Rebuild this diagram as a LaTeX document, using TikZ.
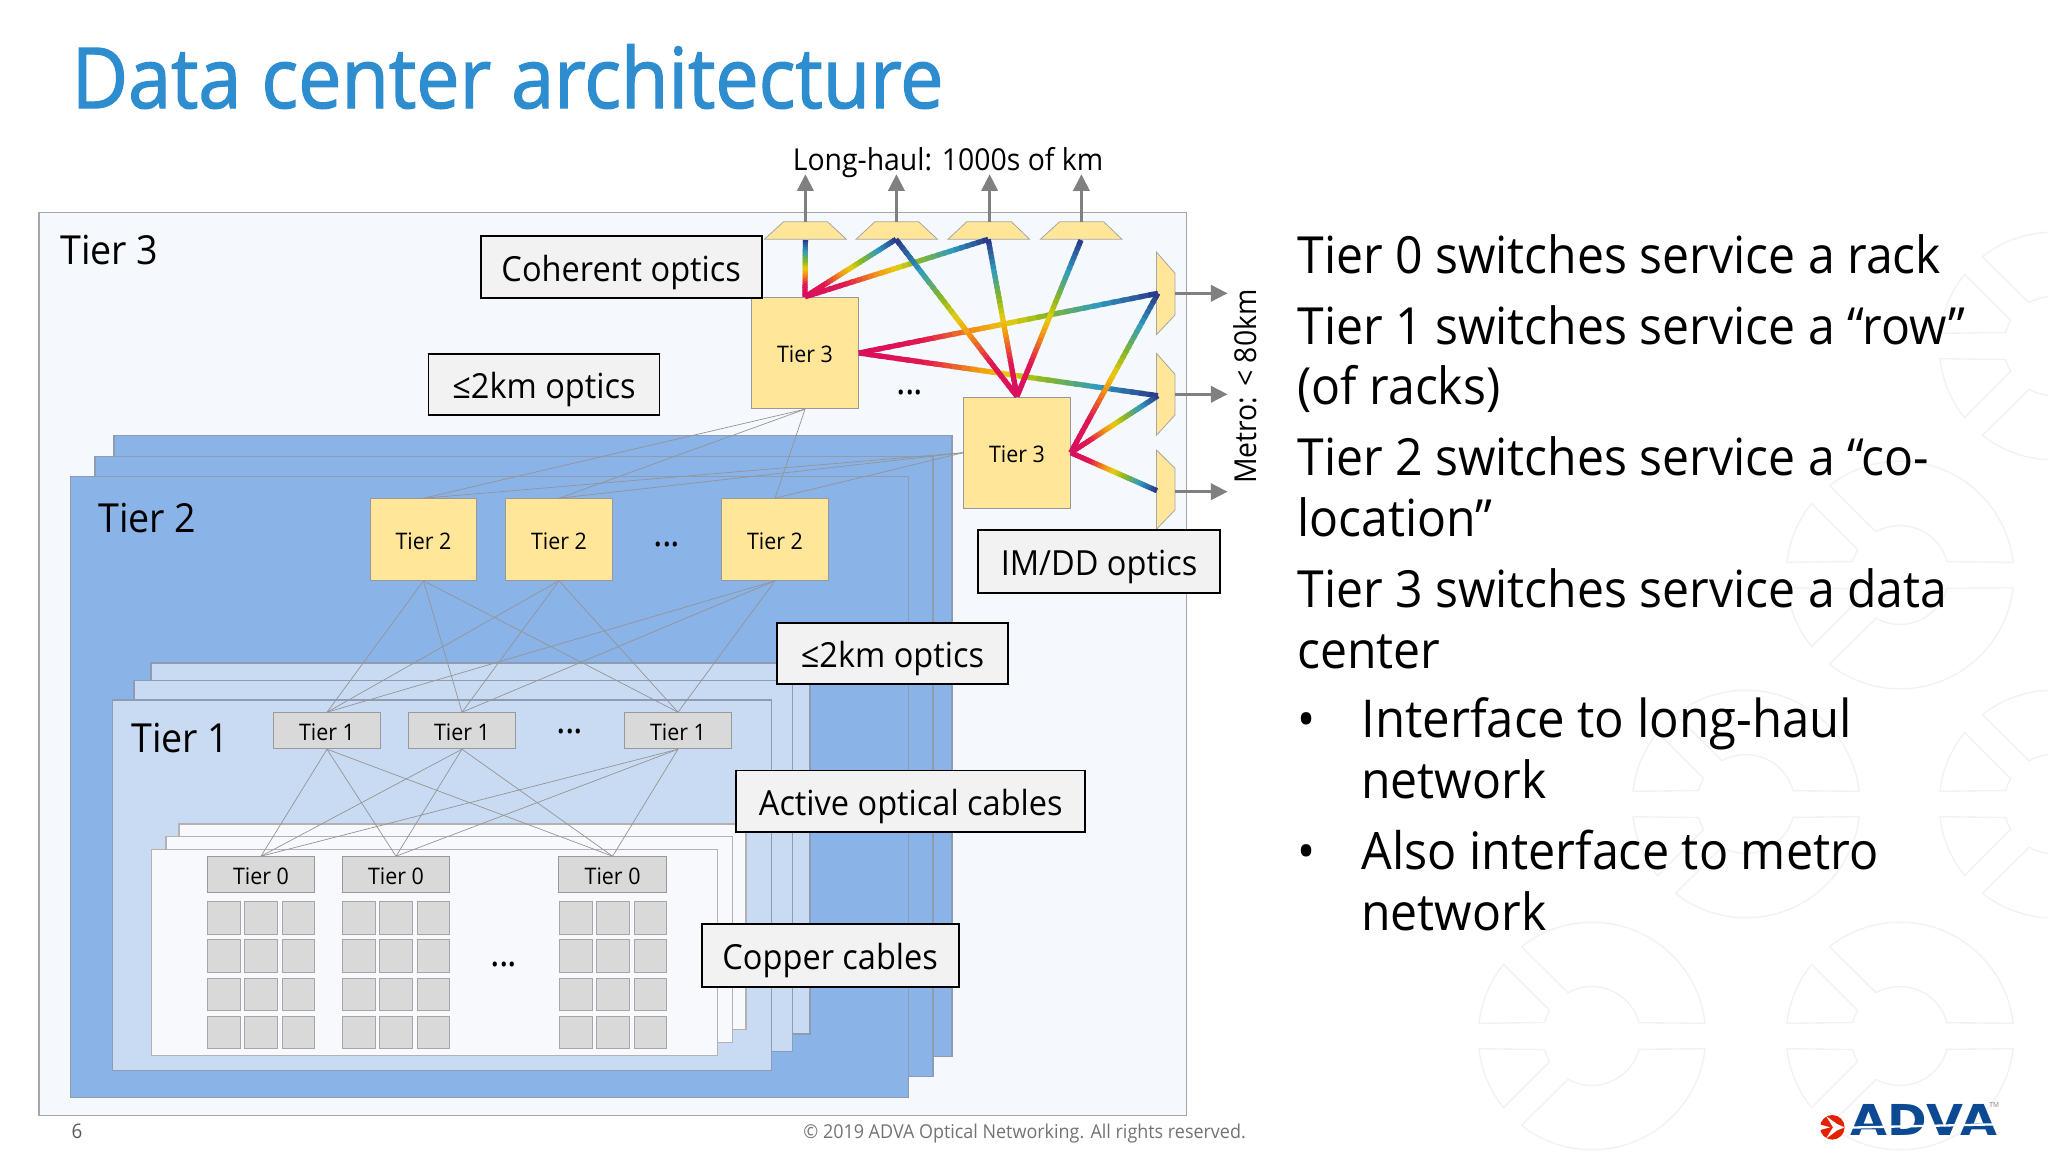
\documentclass[tikz,border=0pt]{standalone}
\usepackage{fontspec}
\usetikzlibrary{calc,arrows.meta}
\setmainfont{Open Sans}[FakeStretch=0.94]
\newfontfamily\titlef{Open Sans}[FakeStretch=0.92,FakeBold=1.6]
\newfontfamily\logof{DejaVu Sans Bold}[FakeStretch=1.12]
\newcommand\fs[1]{\fontsize{#1}{#1}\selectfont}
\definecolor{outerfill}{HTML}{F5F8FD}
\definecolor{ltwo}{HTML}{8AB3E8}
\definecolor{lone}{HTML}{C9DBF3}
\definecolor{lzero}{HTML}{F7F9FD}
\definecolor{layeredge}{HTML}{8E9CB2}
\definecolor{sw}{HTML}{FFE699}
\definecolor{swgray}{HTML}{D9D9D9}
\definecolor{titleblue}{HTML}{2E8DCE}
\definecolor{ringc}{HTML}{F2F2F5}
\definecolor{adva}{HTML}{0B4A92}
\definecolor{rb0}{HTML}{D80E60}
\definecolor{rb1}{HTML}{E01850}
\definecolor{rb2}{HTML}{F39A10}
\definecolor{rb3}{HTML}{E8CC10}
\definecolor{rb4}{HTML}{8AB820}
\definecolor{rb5}{HTML}{2F9BC0}
\definecolor{rb6}{HTML}{2B3585}
\tikzset{
  layer/.style={draw=layeredge,line width=.75pt},
  swbox/.style={draw=black!40,line width=.5pt,inner sep=0pt,font=\fs{11.4},text=black,text height=9.7pt,text depth=0pt},
  t3/.style={swbox,fill=sw,minimum width=53.2pt,minimum height=55.7pt},
  t2/.style={swbox,fill=sw,minimum width=53.2pt,minimum height=40.8pt},
  t1/.style={swbox,fill=swgray,minimum width=53.2pt,minimum height=18pt},
  t0/.style={swbox,fill=swgray,minimum width=53.7pt,minimum height=18pt},
  cell/.style={draw=black!35,fill=swgray,line width=.5pt},
  link/.style={draw=black!42,line width=.35pt},
  tag/.style={draw=black,line width=.9pt,fill=black!5,inner sep=0pt,font=\fs{17.3},text=black,text height=17pt,text depth=3pt},
  big/.style={anchor=base west,inner sep=0pt,font=\fs{20}},
  body/.style={anchor=base west,inner sep=0pt,font=\fs{25.6}},
  mux/.style={draw=black!35,fill=sw,line width=.4pt},
  outarrow/.style={draw=black!50,line width=1.25pt,-{Triangle[length=8.3pt,width=8.2pt]}},
  rb/.style={line width=2.6pt,line cap=butt},
  ring/.style={draw=ringc,line width=.7pt,line join=round},
  dots/.style={inner sep=0pt,anchor=base,font=\fs{19}}
}
\newcommand\rbcol[1]{%
  \edef\tv{#1}%
  \ifdim\tv pt<.22pt \rbmix{rb0}{rb1}{0}{.22}\else
  \ifdim\tv pt<.40pt \rbmix{rb1}{rb2}{.22}{.40}\else
  \ifdim\tv pt<.50pt \rbmix{rb2}{rb3}{.40}{.50}\else
  \ifdim\tv pt<.62pt \rbmix{rb3}{rb4}{.50}{.62}\else
  \ifdim\tv pt<.80pt \rbmix{rb4}{rb5}{.62}{.80}\else
  \rbmix{rb5}{rb6}{.80}{1}\fi\fi\fi\fi\fi}
\newcommand\rbmix[4]{%
  \pgfmathtruncatemacro\pc{round(100*(#4-\tv)/(#4-#3))}%
  \colorlet{rbc}{#1!\pc!#2}}
\newcommand\rbline[2]{%
  \foreach \i in {0,...,31}{%
    \pgfmathsetmacro\ta{\i/32}%
    \pgfmathsetmacro\tb{min((\i+1.5)/32,1)}%
    \pgfmathsetmacro\tm{(\i+.5)/32}%
    \rbcol{\tm}%
    \draw[rb,draw=rbc] ($(#1)!\ta!(#2)$) -- ($(#1)!\tb!(#2)$);
  }}
\newcommand\ringmark[2]{%
  \begin{scope}[shift={(#1,#2)},x=.5pt,y=.5pt]
    \foreach \s in {1,-1}{%
      \begin{scope}[yscale=\s]
        \draw[ring] (6.4:113.8) arc[start angle=6.4,end angle=128.3,radius=56.9pt] -- (119:49.5) arc[start angle=119,end angle=15.3,radius=24.5pt] -- cycle;
        \draw[ring] (173.6:113.8) arc[start angle=173.6,end angle=141,radius=56.9pt] -- (149:49.3) arc[start angle=149,end angle=164.4,radius=24pt] -- cycle;
      \end{scope}}
  \end{scope}}
\newcommand\threedots{.\kern-.6pt.\kern-.6pt.}
\begin{document}
\begin{tikzpicture}[x=.5pt,y=-.5pt]
\useasboundingbox (0,0) rectangle (2048,1152);
\clip (0,0) rectangle (2048,1152);
\fill[white] (0,0) rectangle (2048,1152);
% watermark
\ringmark{1592}{1036}\ringmark{1900}{1036}\ringmark{1746}{804}\ringmark{2053}{804}\ringmark{1900}{575}\ringmark{2053}{346}
% title
\node[anchor=base west,inner sep=0pt,font=\titlef\fs{42},text=titleblue] (title) at (71.4,108) {Data center architecture};
% layers
\draw[draw=black!35,line width=.6pt,fill=outerfill] (39,212.5) rectangle (1186.4,1115.7);
\draw[layer,fill=ltwo] (113.9,435.3) rectangle (951.9,1056.3);
\draw[layer,fill=ltwo] (95.1,456.3) rectangle (933,1076.7);
\draw[layer,fill=ltwo] (70.6,476.7) rectangle (908.3,1097.7);
\draw[layer,fill=lone] (151,663) rectangle (810.1,1034);
\draw[layer,fill=lone] (133.8,680.7) rectangle (792.3,1051.7);
\draw[layer,fill=lone] (112.7,700) rectangle (771.6,1070.7);
\draw[layer,fill=lzero,draw=black!30] (179.2,824) rectangle (745.8,1029.3);
\draw[layer,fill=lzero,draw=black!30] (166,836.7) rectangle (732.6,1042.3);
\draw[layer,fill=lzero,draw=black!30] (151.7,849.3) rectangle (717.7,1055.3);
% switch nodes
\node[t3] (A) at (805,353) {Tier 3};
\node[t3] (B) at (1017,452.7) {Tier 3};
\node[t2] (P) at (423.5,539.5) {Tier 2};
\node[t2] (Q) at (559,539.5) {Tier 2};
\node[t2] (R) at (775,539.5) {Tier 2};
\node[t1] (U) at (327,730.7) {Tier 1};
\node[t1] (V) at (462,730.7) {Tier 1};
\node[t1] (W) at (678,730.7) {Tier 1};
\node[t0] (X) at (261,874.7) {Tier 0};
\node[t0] (Y) at (396,874.7) {Tier 0};
\node[t0] (Z) at (612.6,874.7) {Tier 0};
% thin links
\foreach \b in {P,Q,R}{
  \draw[link] (A.south) -- (\b.north);
  \draw[link] (B.west) -- (\b.north);
  \foreach \c in {U,V,W}{\draw[link] (\b.south) -- (\c.north);}
}
\foreach \c in {U,V,W}{\foreach \d in {X,Y,Z}{\draw[link] (\c.south) -- (\d.north);}}
% rack cells
\foreach \dx in {0,135,352}{
  \foreach \cl/\cr in {207.3/240,244.7/277.4,282/314.7}{
    \foreach \rt/\rb in {901.3/934,939.3/972.3,978/1010.7,1016.3/1048.7}{
      \draw[cell] (\cl+\dx,\rt) rectangle (\cr+\dx,\rb);
    }}}
% dots
\node[dots] (d1) at (910,394) {\threedots};
\node[dots] (d2) at (667,546.5) {\threedots};
\node[dots] (d3) at (570,733.5) {\threedots};
\node[dots] (d4) at (504,966.5) {\threedots};
% muxes
\draw[mux] (764.3,239.3) -- (783.6,221.7) -- (827.5,221.7) -- (846.4,239.3) -- cycle;
\draw[mux] (856,239.3) -- (875,221.7) -- (918.6,221.7) -- (937.5,239.3) -- cycle;
\draw[mux] (947.9,239.3) -- (966.8,221.7) -- (1011.4,221.7) -- (1029.6,239.3) -- cycle;
\draw[mux] (1040.4,239.3) -- (1059.6,221.7) -- (1103.6,221.7) -- (1122,239.3) -- cycle;
\draw[mux] (1156.4,252) -- (1175,273.3) -- (1175,315) -- (1156.4,334.7) -- cycle;
\draw[mux] (1156.4,353.3) -- (1175,374.3) -- (1175,415) -- (1156.4,435.3) -- cycle;
\draw[mux] (1156.4,450) -- (1175,468.3) -- (1175,510) -- (1156.4,529.3) -- cycle;
\coordinate (m1) at (805.4,240); \coordinate (m2) at (896,239.3); \coordinate (m3) at (988.2,239.3); \coordinate (m4) at (1081,240);
\coordinate (r1) at (1157.9,293.3); \coordinate (r2) at (1157.9,395.7); \coordinate (r3) at (1157,490.7);
\coordinate (m1o) at (805.4,221.7); \coordinate (m2o) at (896.4,221.7); \coordinate (m3o) at (989.6,221.7); \coordinate (m4o) at (1081.4,221.7);
\coordinate (m1t) at (805.4,174.3); \coordinate (m2t) at (896.4,174.3); \coordinate (m3t) at (989.6,174.3); \coordinate (m4t) at (1081.4,174.3);
\coordinate (r1o) at (1175,293.3); \coordinate (r2o) at (1175,394.3); \coordinate (r3o) at (1175,491.7);
\coordinate (r1t) at (1227.5,293.3); \coordinate (r2t) at (1227.5,394.3); \coordinate (r3t) at (1227.5,491.7);
\foreach \n in {m1,m2,m3,m4,r1,r2,r3}{\draw[outarrow] (\n o) -- (\n t);}
% rainbow fibres
\rbline{A.east}{r2}
\rbline{A.east}{r1}
\rbline{A.north}{m1}
\rbline{A.north}{m3}
\rbline{A.north}{m2}
\rbline{B.east}{r3}
\rbline{B.east}{r2}
\rbline{B.east}{r1}
\rbline{B.north}{m2}
\rbline{B.north}{m3}
\rbline{B.north}{m4}
% tier headings
\node[big] (h3) at (60,264.3) {Tier 3};
\node[big] (h2) at (98,532) {Tier 2};
\node[big] (h1) at (131,752) {Tier 1};
% tags
\node[tag,minimum width=140.4pt,minimum height=31pt] (tagA) at (621.2,267) {Coherent optics};
\node[tag,minimum width=115.5pt,minimum height=30.6pt] (tagB) at (544,384.7) {≤2km optics};
\node[tag,minimum width=121pt,minimum height=31.5pt] (tagC) at (1099,561.5) {IM/DD optics};
\node[tag,minimum width=115.5pt,minimum height=30.5pt] (tagD) at (892.5,653.5) {≤2km optics};
\node[tag,minimum width=174.5pt,minimum height=30.9pt] (tagE) at (910.8,801.4) {Active optical cables};
\node[tag,minimum width=128.6pt,minimum height=31.3pt] (tagF) at (830.2,955.3) {Copper cables};
% free labels
\node[inner sep=0pt,font=\fs{15.1},anchor=base] (lh) at (948,170) {Long-haul: 1000s of km};
\node[inner sep=0pt,font=\fs{15.1},rotate=90] (metro) at (1245,386.6) {Metro: < 80km};
% body
\node[body] (l1) at (1297,273.5) {Tier 0 switches service a rack};
\node[body] (l2) at (1297,344) {Tier 1 switches service a “row”};
\node[body] (l3) at (1297,404.6) {(of racks)};
\node[body] (l4) at (1297,475.3) {Tier 2 switches service a “co-};
\node[body] (l5) at (1297,536.3) {location”};
\node[body] (l6) at (1297,607.3) {Tier 3 switches service a data};
\node[body] (l7) at (1297,668.5) {center};
\node[body] (b1) at (1297,737.4) {•};
\node[body,font=\fs{26.1}] (l8) at (1361,737.4) {Interface to long-haul};
\node[body] (l9) at (1361,798.4) {network};
\node[body] (b2) at (1297,869) {•};
\node[body,font=\fs{25.8}] (l10) at (1361,869) {Also interface to metro};
\node[body] (l11) at (1361,930) {network};
% footer
\node[anchor=base,inner sep=0pt,font=\fs{10},text=black!65] (pg) at (77,1138) {6};
\node[anchor=base west,inner sep=0pt,font=\fs{9.55},text=black!55] (copy) at (803,1138) {© 2019 ADVA Optical Networking. All rights reserved.};
% logo
\node[anchor=base west,inner sep=0pt,font=\logof\fs{21.3},text=adva] (lg) at (1850,1135.5) {ADVA};
\fill[white] (1846,1126.5) -- (2004,1123) -- (2004,1125.3) -- (1846,1128.8) -- cycle;
\node[anchor=base west,inner sep=0pt,font=\fs{3.5},text=black!50] (tm) at (1989,1107) {TM};
\fill[red!70!orange!90!black] (1832.3,1127.3) circle[radius=12.3];
\fill[white] (1820,1124.5) -- (1830,1127.3) -- (1820,1130) -- cycle;
\fill[white] (1826,1116) -- (1837,1124) -- (1844.6,1127.3) -- (1837,1130.5) -- (1826,1138.6) -- (1833,1127.3) -- cycle;
\end{tikzpicture}
\end{document}
